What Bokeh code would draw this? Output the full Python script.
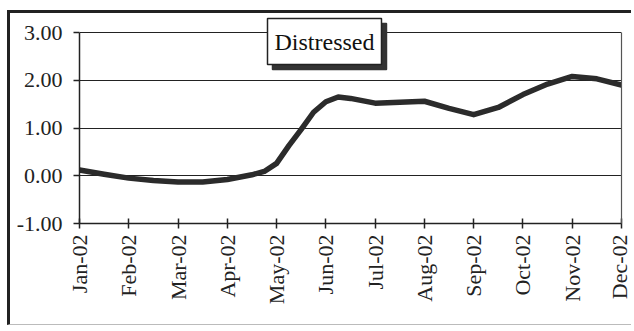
from bokeh.plotting import figure
from bokeh.models import Range1d, FixedTicker, Label, LinearAxis, NumeralTickFormatter
from bokeh.embed import file_html
from bokeh.resources import INLINE
import math

# category labels (x ticks)
months = ["Jan-02", "Feb-02", "Mar-02", "Apr-02", "May-02", "Jun-02",
          "Jul-02", "Aug-02", "Sep-02", "Oct-02", "Nov-02", "Dec-02"]

# series (position in months from Jan-02, value)
pos = [0, 0.5, 1, 1.5, 2, 2.5, 3, 3.5, 3.75, 4, 4.25, 4.5, 4.75, 5, 5.25, 5.5,
       6, 6.5, 7, 7.5, 8, 8.5, 9, 9.5, 10, 10.5, 11]
distressed = [0.12, 0.03, -0.05, -0.10, -0.13, -0.13, -0.08, 0.02, 0.09, 0.26, 0.63,
              0.97, 1.33, 1.55, 1.65, 1.62, 1.52, 1.54, 1.56, 1.41, 1.28, 1.43,
              1.70, 1.92, 2.08, 2.03, 1.90]

yticks = [-1, 0, 1, 2, 3]
series_name = "Distressed"

FONT = "Liberation Serif"

# page geometry: canvas starts after the outer frame border
OFF_X, OFF_Y = 10, 13
PX_PER_MONTH = (621 - 79) / 11
PX_PER_UNIT = (223 - 32) / 4
y_top = 3 + (32 - OFF_Y) / PX_PER_UNIT

p = figure(width=634 - OFF_X, height=328 - OFF_Y, output_backend="svg",
           toolbar_location=None,
           x_range=Range1d(0, 11), y_range=Range1d(-1, y_top),
           min_border_left=79 - OFF_X, min_border_right=13, min_border_top=0,
           min_border_bottom=328 - 223,
           styles={"margin-left": "7px", "margin-top": "10px",
                   "border-left": "3px solid #222222",
                   "border-top": "3px solid #222222",
                   "border-bottom": "1px solid #bbbbbb"})
p.background_fill_color = "white"
p.border_fill_color = "white"
p.outline_line_color = None

# axes
p.xaxis.ticker = FixedTicker(ticks=list(range(len(months))))
p.xaxis.major_label_overrides = {i: m for i, m in enumerate(months)}
p.xaxis.major_label_orientation = math.pi / 2
p.xaxis.major_tick_in = 5
p.xaxis.major_tick_out = 5
p.xaxis.minor_tick_line_color = None
p.xaxis.major_label_standoff = 6

p.yaxis.ticker = FixedTicker(ticks=yticks)
p.yaxis.formatter = NumeralTickFormatter(format="0.00")
p.yaxis.bounds = (-1, 3)
p.yaxis.major_tick_in = 0
p.yaxis.major_tick_out = 6
p.yaxis.minor_tick_line_color = None
p.yaxis.major_label_standoff = 11

# right edge of the plot area
right_axis = LinearAxis(bounds=(-1, 3), ticker=FixedTicker(ticks=[]),
                        major_label_text_font_size="0px",
                        major_tick_line_color=None, minor_tick_line_color=None,
                        axis_line_color="#555555", axis_line_width=1.2)
p.add_layout(right_axis, "right")

for ax in (p.xaxis[0], p.yaxis[0]):
    ax.axis_line_color = "#222222"
    ax.axis_line_width = 1.5
    ax.major_tick_line_color = "#222222"
    ax.major_tick_line_width = 1.5
    ax.major_label_text_font = FONT
    ax.major_label_text_font_size = "22px"
    ax.major_label_text_color = "#222222"

p.xgrid.grid_line_color = None
p.ygrid.ticker = FixedTicker(ticks=yticks)
p.ygrid.grid_line_color = "#222222"
p.ygrid.grid_line_width = 1.2

# the series line
p.line(pos, distressed, line_color="#2b2b2b", line_width=5.5, line_join="round",
       line_cap="round")


def dx(px):
    return (px - 79) / PX_PER_MONTH


def dy(py):
    return 3 + (32 - py) / PX_PER_UNIT


# legend-like label with shadow
shadow = Label(x=dx(272), y=dy(23), text=series_name, anchor="top_left",
               text_font=FONT, text_font_size="24px", text_color="#333333",
               background_fill_color="#333333", border_line_color="#333333",
               border_line_width=1.5,
               padding=dict(left=7, right=7, top=10, bottom=10))
legend = Label(x=dx(267), y=dy(18), text=series_name, anchor="top_left",
               text_font=FONT, text_font_size="24px", text_color="#111111",
               background_fill_color="white", border_line_color="#222222",
               border_line_width=1.5,
               padding=dict(left=7, right=7, top=10, bottom=10))
p.add_layout(shadow)
p.add_layout(legend)

open("out.html", "w").write(file_html(p, INLINE))
